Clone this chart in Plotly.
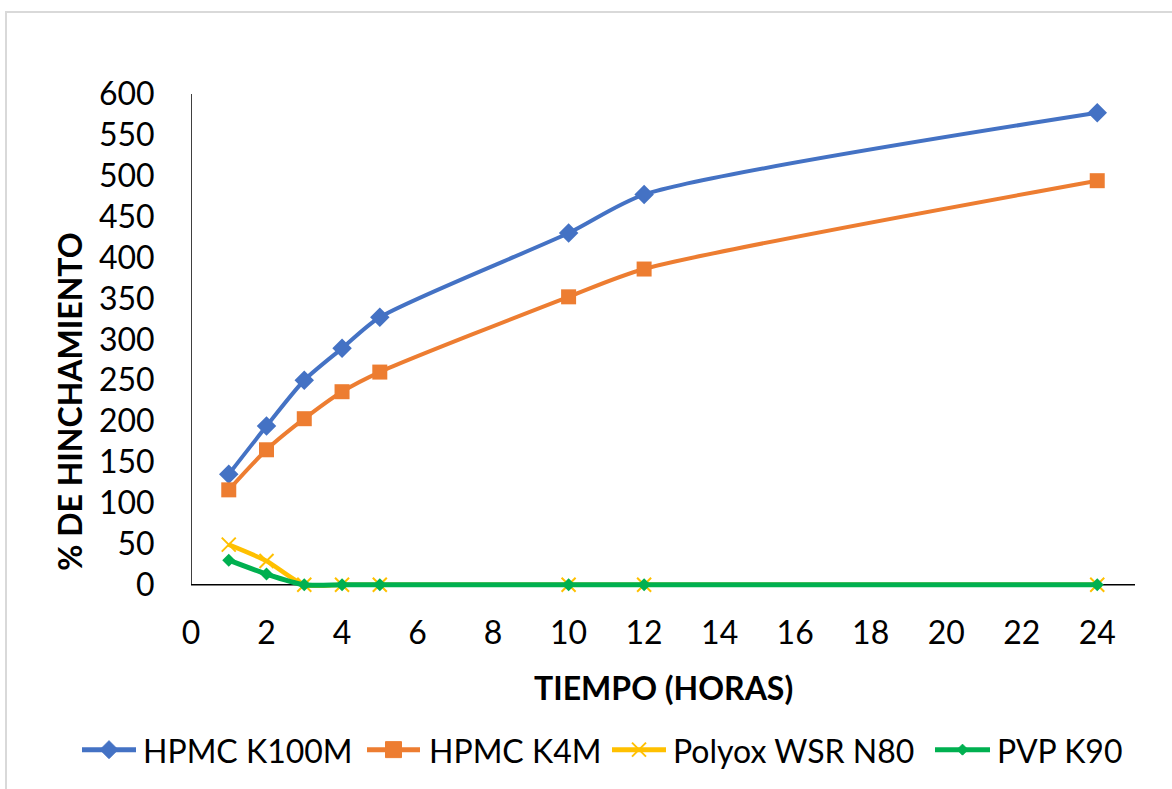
import plotly.graph_objects as go

hours = [1, 2, 3, 4, 5, 10, 12, 24]
hpmc_k100m = [135, 194, 250, 289, 327, 430, 477, 577]
hpmc_k4m = [116, 165, 203, 236, 260, 352, 386, 494]
polyox = [49, 29, 0, 0, 0, 0, 0, 0]
pvp = [30, 13, 0, 0, 0, 0, 0, 0]

series_names = ["HPMC K100M", "HPMC K4M", "Polyox WSR N80", "PVP K90"]
series_colors = ["#4472C4", "#ED7D31", "#FFC000", "#00B050"]

x_ticks = list(range(0, 25, 2))
y_ticks = list(range(0, 601, 50))
x_max, y_min, y_max = 25, -4, 600

FONT = "Lato"
FS = 32
W, H = 1172, 789
L, R, T = 191, 37, 94
B = H - (585 + 4 * 491 / 600)
pw, ph = W - L - R, H - T - B


def px_x(p):
    return (p - L) / pw


def px_y(p):
    return (H - B - p) / ph


fig = go.Figure()
styles = [
    (4, dict(symbol="diamond", size=15)),
    (4, dict(symbol="square", size=15)),
    (4.5, dict(symbol="x-thin", size=14, line=dict(width=2, color=series_colors[2]))),
    (5, dict(symbol="diamond", size=10)),
]
for name, vals, color, (lw, mk) in zip(series_names, [hpmc_k100m, hpmc_k4m, polyox, pvp], series_colors, styles):
    fig.add_trace(go.Scatter(
        x=hours, y=vals, name=name, mode="lines+markers",
        line=dict(color=color, width=lw, shape="spline", smoothing=0.7),
        marker=dict(color=color, **mk), cliponaxis=False, showlegend=False,
    ))

shapes = [
    dict(type="rect", xref="paper", yref="paper",
         x0=px_x(6), x1=px_x(1190), y0=px_y(810), y1=px_y(12),
         line=dict(color="#D9D9D9", width=2), fillcolor="rgba(0,0,0,0)", layer="below"),
    # axis lines
    dict(type="line", xref="x", yref="y", x0=0, x1=x_max, y0=0, y1=0,
         line=dict(color="black", width=1.5), layer="below"),
    dict(type="line", xref="x", yref="y", x0=0, x1=0, y0=0, y1=y_max,
         line=dict(color="black", width=1.5), layer="below"),
]
annotations = []
# manual legend (layout decoration)
leg_y = 750
leg_line = [(82, 136), (367, 420), (612, 666), (935, 990)]
leg_text_x = [141, 427, 671, 995]
for i, (name, color) in enumerate(zip(series_names, series_colors)):
    x0, x1 = leg_line[i]
    cx = (x0 + x1) / 2
    shapes.append(dict(type="line", xref="paper", yref="paper",
                       x0=px_x(x0), x1=px_x(x1), y0=px_y(leg_y), y1=px_y(leg_y),
                       line=dict(color=color, width=5)))
    if i in (0, 3):
        r = 9 if i == 0 else 5.5
        path = "M {} {} L {} {} L {} {} L {} {} Z".format(
            px_x(cx - r), px_y(leg_y), px_x(cx), px_y(leg_y - r),
            px_x(cx + r), px_y(leg_y), px_x(cx), px_y(leg_y + r))
        shapes.append(dict(type="path", xref="paper", yref="paper", path=path,
                           fillcolor=color, line=dict(color=color, width=1)))
    elif i == 1:
        r = 8
        shapes.append(dict(type="rect", xref="paper", yref="paper",
                           x0=px_x(cx - r), x1=px_x(cx + r), y0=px_y(leg_y + r), y1=px_y(leg_y - r),
                           fillcolor=color, line=dict(color=color, width=1)))
    else:
        r = 7
        for s in (1, -1):
            shapes.append(dict(type="line", xref="paper", yref="paper",
                               x0=px_x(cx - r), x1=px_x(cx + r),
                               y0=px_y(leg_y - s * r), y1=px_y(leg_y + s * r),
                               line=dict(color=color, width=2)))
    annotations.append(dict(text=name, xref="paper", yref="paper",
                            x=px_x(leg_text_x[i]), y=px_y(leg_y + 1), showarrow=False,
                            xanchor="left", yanchor="middle", font=dict(size=FS, family=FONT)))

annotations += [
    dict(text="<b>% DE HINCHAMIENTO</b>", xref="paper", yref="paper",
         x=px_x(70), y=px_y(402), textangle=-90, showarrow=False,
         font=dict(size=FS, family=FONT), xanchor="center", yanchor="middle"),
    dict(text="<b>TIEMPO (HORAS)</b>", xref="paper", yref="paper",
         x=px_x(663), y=px_y(688), showarrow=False,
         font=dict(size=FS, family=FONT), xanchor="center", yanchor="middle"),
]

fig.update_layout(
    width=W, height=H,
    margin=dict(l=L, r=R, t=T, b=B),
    paper_bgcolor="white", plot_bgcolor="white",
    font=dict(family=FONT, color="black", size=FS),
    showlegend=False,
    xaxis=dict(range=[0, x_max], tickvals=x_ticks, showgrid=False, zeroline=False,
               showline=False, ticks="outside", ticklen=17, tickcolor="rgba(0,0,0,0)",
               tickfont=dict(size=FS)),
    yaxis=dict(range=[y_min, y_max], tickvals=y_ticks, showgrid=False, zeroline=False,
               showline=False, ticks="outside", ticklen=29, tickcolor="rgba(0,0,0,0)",
               tickfont=dict(size=FS)),
    annotations=annotations,
    shapes=shapes,
)

fig.write_html("out.html")
